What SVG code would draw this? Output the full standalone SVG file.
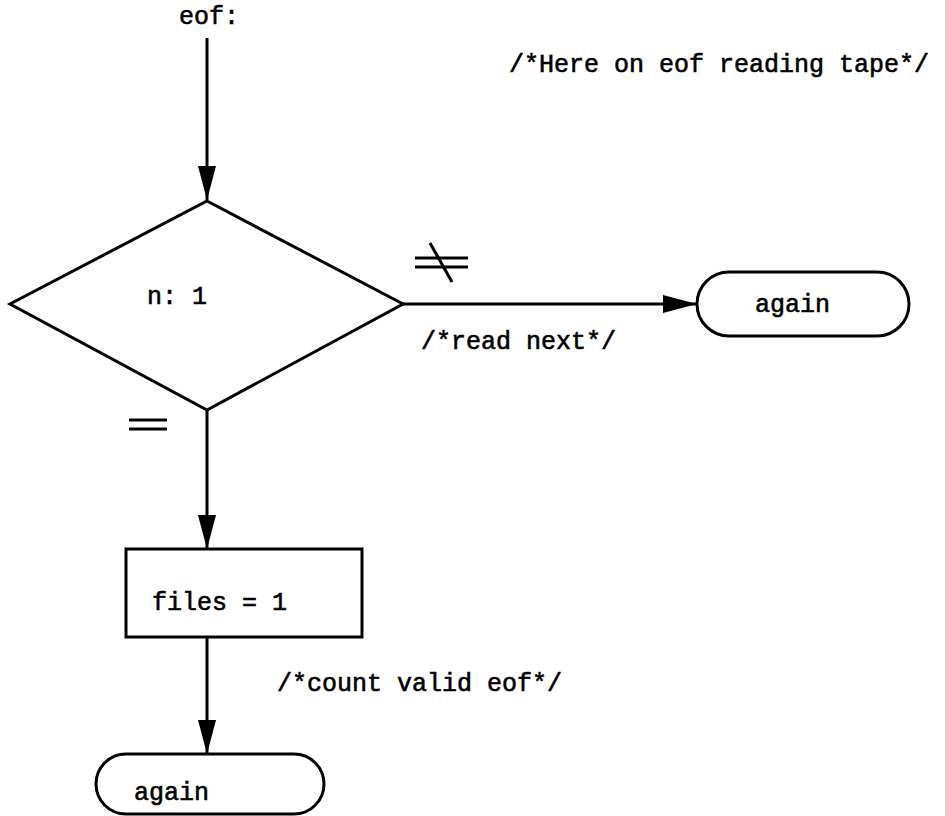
<svg xmlns="http://www.w3.org/2000/svg" width="945" height="816" viewBox="0 0 945 816">
<defs>
<style>
.shape{fill:none;stroke:#000;stroke-width:3;stroke-linejoin:miter}
.ln{fill:none;stroke:#000;stroke-width:3}
text{font-family:"Liberation Mono","Courier New",monospace;font-size:25px;fill:#000;stroke:#000;stroke-width:0.6}
</style>
<marker id="ah" markerWidth="36" markerHeight="20" refX="34" refY="9" orient="auto" markerUnits="userSpaceOnUse">
<path d="M0,0 L34,9 L0,18 Z" fill="#000"/>
</marker>
</defs>
<rect width="945" height="816" fill="#fff"/>
<g id="connectors">
<line class="ln" x1="207" y1="38" x2="207" y2="200" marker-end="url(#ah)"/>
<line class="ln" x1="403" y1="304" x2="697" y2="304" marker-end="url(#ah)"/>
<line class="ln" x1="207" y1="410" x2="207" y2="549" marker-end="url(#ah)"/>
<line class="ln" x1="207" y1="637" x2="207" y2="754" marker-end="url(#ah)"/>
<g id="ne-label">
<line class="ln" x1="415" y1="258" x2="468" y2="258"/>
<line class="ln" x1="415" y1="267" x2="468" y2="267"/>
<line class="ln" x1="430" y1="243" x2="452" y2="282"/>
</g>
<g id="eq-label">
<line class="ln" x1="129" y1="420" x2="167" y2="420"/>
<line class="ln" x1="129" y1="429" x2="167" y2="429"/>
</g>
<text x="421" y="349">/*read next*/</text>
<text x="277" y="691">/*count valid eof*/</text>
</g>
<g id="start">
<text x="179" y="24">eof:</text>
</g>
<text id="comment" x="509" y="72">/*Here on eof reading tape*/</text>
<g id="decision">
<polygon class="shape" points="207,201 403,304 207,410 10,304"/>
<text x="147" y="304">n: 1</text>
</g>
<g id="again-right">
<rect class="shape" x="697" y="272" width="212" height="64" rx="32" ry="32"/>
<text x="755" y="312">again</text>
</g>
<g id="process">
<rect class="shape" x="126" y="549" width="236" height="88"/>
<text x="152" y="610">files = 1</text>
</g>
<g id="again-bottom">
<rect class="shape" x="96" y="754" width="228" height="60" rx="30" ry="30"/>
<text x="134" y="800">again</text>
</g>
</svg>
